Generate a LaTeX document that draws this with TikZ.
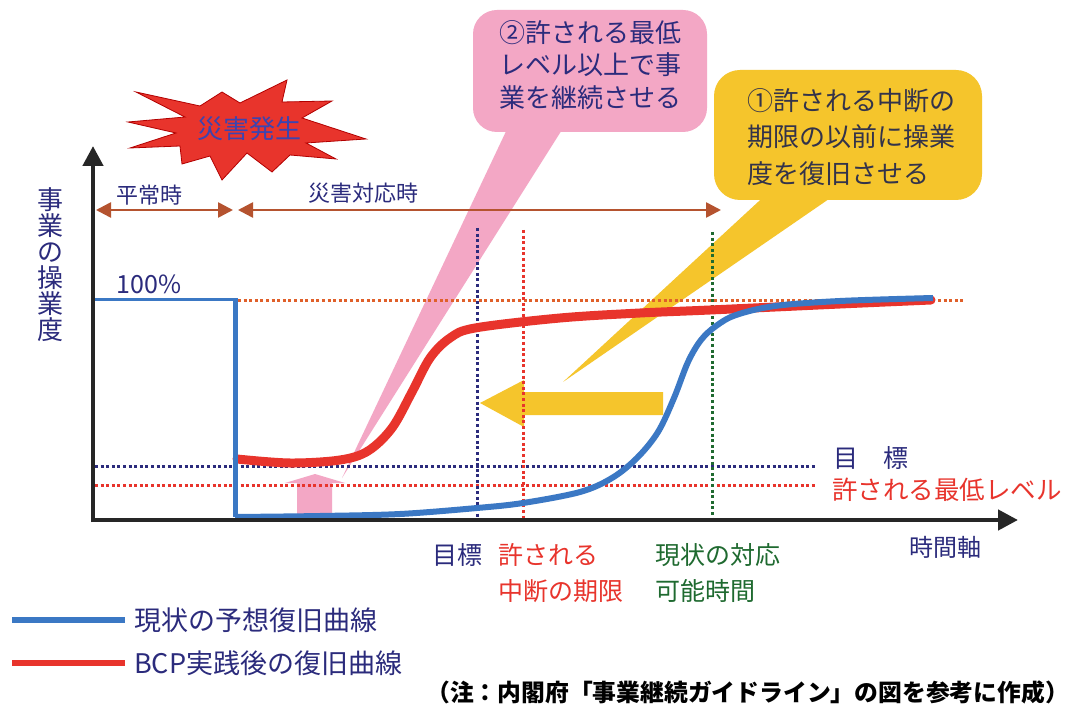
\documentclass[tikz,border=0pt]{standalone}
\usepackage{fontspec}
\setmainfont{Noto Sans CJK JP}
\usetikzlibrary{arrows.meta}
\definecolor{navyc}{HTML}{2B2B7C}
\definecolor{bluec}{HTML}{3B78C4}
\definecolor{redc}{HTML}{E8342C}
\definecolor{pinkc}{HTML}{F3A7C5}
\definecolor{yelc}{HTML}{F5C52C}
\definecolor{brownc}{HTML}{B5532F}
\definecolor{orangec}{HTML}{E0602A}
\definecolor{greenc}{HTML}{1F6A30}
\definecolor{darkc}{HTML}{33334A}
\definecolor{burstc}{HTML}{3C44B0}
\tikzset{
  txt/.style={inner sep=0pt, font=\fontsize{25}{30}\selectfont},
  dotline/.style={line width=3pt, dash pattern=on 3pt off 2.6pt},
  axisline/.style={line width=4.5pt, draw=black!85, -{Triangle[length=20pt,width=20pt]}},
  spanarrow/.style={line width=2.6pt, draw=brownc, {Triangle[length=15pt,width=15pt]}-{Triangle[length=15pt,width=15pt]}},
}
\begin{document}
\begin{tikzpicture}[x=1pt,y=-1pt]
\useasboundingbox (0,0) rectangle (1076,708);
\fill[white] (0,0) rectangle (1076,708);

% callout 2 (pink)
\fill[pinkc] (342,478) -- (509,125) -- (565,125) -- cycle;
\fill[pinkc, rounded corners=24pt] (473,10) rectangle (707,132);
\node[txt, text=navyc, align=center, font=\fontsize{26}{32.5}\selectfont] (c2) at (590,65) {②許される最低\\レベル以上で事\\業を継続させる};

% callout 1 (yellow)
\fill[yelc] (563,382) -- (771,190) -- (842,190) -- cycle;
\fill[yelc, rounded corners=26pt] (714,70) rectangle (982,200);
\node[txt, text=darkc, align=left, font=\fontsize{26}{36.5}\selectfont] (c1) at (851,137) {①許される中断の\\期限の以前に操業\\度を復旧させる};

% big yellow arrow
\fill[yelc] (480,403) -- (524,380) -- (524,392) -- (663,392) -- (663,415) -- (524,415) -- (524,427) -- cycle;
% small pink arrow
\fill[pinkc] (297,518) -- (297,483) -- (285,483) -- (315,474) -- (345,483) -- (332,483) -- (332,518) -- cycle;

% dotted lines
\draw[dotline, orangec] (238,301) -- (965,301);
\draw[dotline, navyc] (95,466) -- (815,466);
\draw[dotline, redc] (95,485) -- (815,485);
\draw[dotline, navyc] (477,228) -- (477,518);
\draw[dotline, redc] (523,230) -- (523,518);
\draw[dotline, greenc] (712,232) -- (712,518);

% red curve (after BCP)
\draw[redc, line width=9pt, line cap=round] plot[smooth, tension=0.55] coordinates {(237,459) (290,463) (340,460) (368,451) (392,428) (412,392) (430,358) (450,338) (475,328) (560,318) (640,313) (710,310) (840,304) (931,300)};
% blue curve (current)
\draw[bluec, line width=3pt] (94,300) -- (235,300);
\draw[bluec, line width=5pt, line join=round] (235,298.5) -- (235,517);
\draw[bluec, line width=6pt] plot[smooth, tension=0.55] coordinates {(235,517) (320,516) (400,514) (477,508) (523,503) (580,492) (612,478) (637,458) (658,432) (674,398) (688,362) (701,340) (716,326) (736,315) (775,306) (840,301) (933,298)};

% axes
\draw[axisline] (93,522) -- (93,146);
\draw[axisline] (91,520) -- (1018,520);
\node[txt, text=navyc, align=center, font=\fontsize{26}{26}\selectfont] (ylab) at (50,265) {事\\業\\の\\操\\業\\度};
\node[txt, text=navyc] (pct) at (149,284) {100\%};
\node[txt, text=navyc, font=\fontsize{24}{28}\selectfont] (tax) at (945,547) {時間軸};

% span arrows
\coordinate (s0) at (96,210);
\coordinate (s1) at (233,210);
\coordinate (s2) at (238,210);
\coordinate (s3) at (721,210);
\draw[spanarrow] (s0) -- (s1);
\draw[spanarrow] (s2) -- (s3);
\node[txt, text=navyc, font=\fontsize{22}{26}\selectfont] (heijo) at (149,195) {平常時};
\node[txt, text=navyc, font=\fontsize{22}{26}\selectfont] (saigai) at (363,193) {災害対応時};

% burst
\filldraw[fill=redc, draw=red!70!black, line width=0.8pt, line join=miter]
 (128,122) -- (185,117) -- (136,92) -- (200,106) -- (222,92) -- (240,103) -- (287,80) -- (282,102) -- (332,101) -- (302,118) -- (366,139) -- (306,143) -- (336,159) -- (290,155) -- (272,172) -- (247,153) -- (222,180) -- (210,156) -- (182,164) -- (180,146) -- (130,148) -- (176,133) -- cycle;
\node[txt, text=burstc, font=\fontsize{26}{28}\selectfont] (burst) at (249,129) {災害発生};

% labels below the axis
\node[txt, text=navyc] (lmoku) at (457,555) {目標};
\node[txt, text=redc, anchor=west] (lyuru) at (498,555) {許される};
\node[txt, text=redc, anchor=west] (lkigen) at (498,591) {中断の期限};
\node[txt, text=greenc, anchor=west] (lgen) at (655,555) {現状の対応};
\node[txt, text=greenc, anchor=west] (lkano) at (655,591) {可能時間};

% right labels
\node[txt, text=navyc, anchor=west] (rmoku) at (833,458) {目　標};
\node[txt, text=redc, anchor=west, font=\fontsize{25.5}{30}\selectfont] (rlow) at (832,490) {許される最低レベル};

% legend
\coordinate (lb0) at (12,620);
\coordinate (lb1) at (125,620);
\coordinate (lr0) at (12,663);
\coordinate (lr1) at (125,663);
\draw[bluec, line width=6pt] (lb0) -- (lb1);
\draw[redc, line width=6pt] (lr0) -- (lr1);
\node[txt, text=navyc, anchor=west, font=\fontsize{27}{30}\selectfont] (legb) at (134,620) {現状の予想復旧曲線};
\node[txt, text=navyc, anchor=west, font=\fontsize{27}{30}\selectfont] (legr) at (134,663) {BCP実践後の復旧曲線};

% note
\node[txt, anchor=east, font=\fontsize{23.8}{28}\selectfont\bfseries] (note) at (1069,692) {（注：内閣府「事業継続ガイドライン」の図を参考に作成）};
\end{tikzpicture}
\end{document}
